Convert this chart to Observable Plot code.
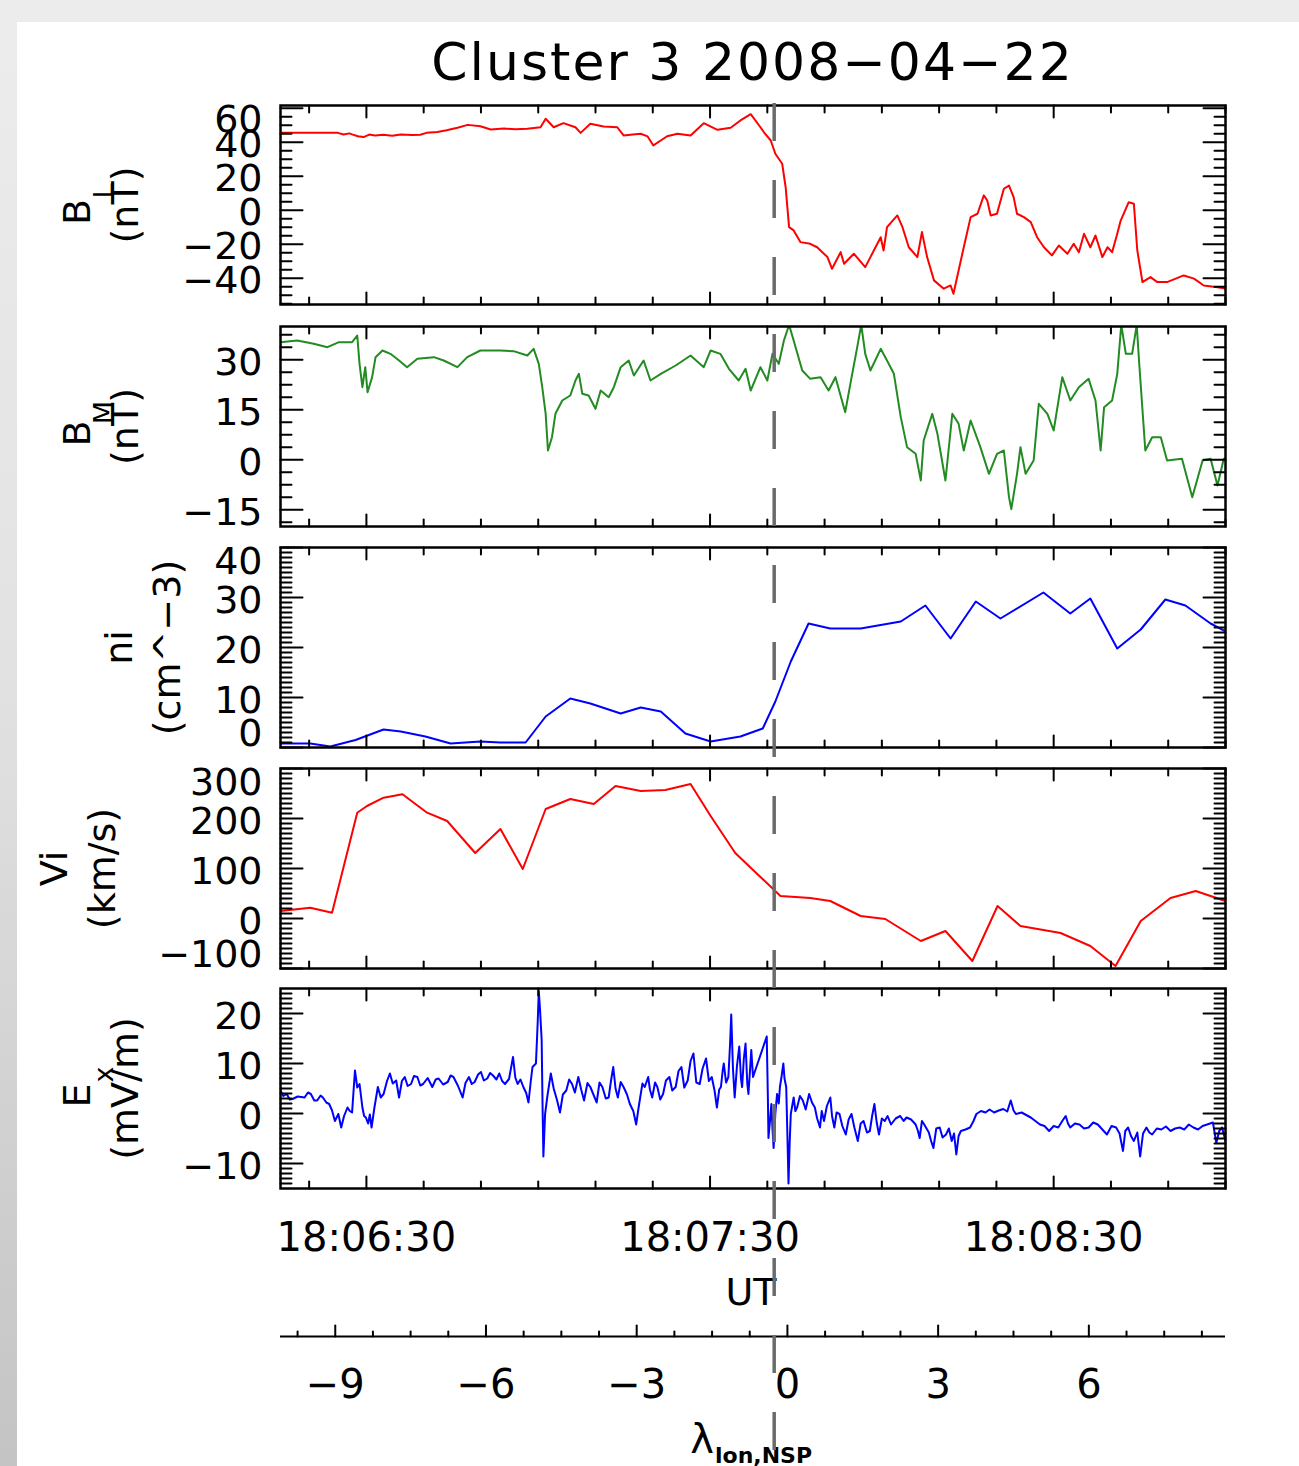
<!DOCTYPE html>
<html>
<head>
<meta charset="utf-8">
<script src="https://cdn.jsdelivr.net/npm/d3@7"></script>
<script src="https://cdn.jsdelivr.net/npm/@observablehq/plot@0.6"></script>
<style>
html, body { margin: 0; padding: 0; width: 1299px; height: 1466px; overflow: hidden; background: #ececec; }
#strip { position: absolute; left: 0; top: 22px; width: 17px; height: 1444px; background: linear-gradient(#ececec, #e2e2e2 45%, #c4c4c4); }
#sheet { position: absolute; left: 17px; top: 22px; right: 0; bottom: 0; background: #ffffff; }
#fig { position: absolute; left: 0; top: 0; width: 1299px; height: 1466px; }
#fig svg { position: absolute; left: 0; overflow: visible; }
#title { position: absolute; left: 0; width: 1505px; top: 30px; text-align: center; font-family: "DejaVu Sans", sans-serif; font-size: 52px; letter-spacing: 2px; color: #000; line-height: 64px; }
</style>
</head>
<body>
<div id="strip"></div>
<div id="sheet"></div>
<div id="fig"><div id="title">Cluster 3 2008−04−22</div></div>
<script>
// ---------------- data (time = seconds after 18:06:00 UT) ----------------
const timeDomain = [15, 180];
const timeTickValues = [30, 90, 150];
const timeTickLabels = ["18:06:30", "18:07:30", "18:08:30"];
const timeMinorTicks = [20, 40, 50, 60, 70, 80, 100, 110, 120, 130, 140, 160, 170, 180];
const markerTime = 101.2;

const lambdaDomain = [-10.09, 8.72];
const lambdaTickValues = [-9, -6, -3, 0, 3, 6];
const lambdaMinorTicks = [-9.75, -8.25, -7.5, -6.75, -5.25, -4.5, -3.75, -2.25, -1.5, -0.75, 0.75, 1.5, 2.25, 3.75, 4.5, 5.25, 6.75, 7.5, 8.25];

const bLTicks = [-40, -20, 0, 20, 40, 60];
const bMTicks = [-15, 0, 15, 30];
const niTicks = [0, 10, 20, 30, 40];
const viTicks = [-100, 0, 100, 200, 300];
const exTicks = [-10, 0, 10, 20];

const bL = [[15,45.5],[25,45.5],[26,44.5],[27,45.2],[27.5,44.6],[28.5,43.5],[29.5,43],[30.5,44.5],[31.5,44],[33,44.4],[34.5,43.8],[36,44.5],[38,44.2],[39.4,44.4],[40.5,45.5],[42.4,46],[44,47],[45.9,48.5],[47.7,50.2],[49.9,49.4],[51.7,47.5],[54,48],[56,47.6],[58.1,47.9],[60.4,48.8],[61.3,53.8],[62.7,48.8],[64.4,51.2],[66.5,48.8],[67.4,45.5],[69.1,50.8],[71.4,49.2],[73.8,48.8],[74.9,44],[76.5,44.6],[77.9,45],[79.1,43.4],[80.1,38.1],[81.4,41],[82.5,43.5],[84.3,45],[86.6,44],[88.9,51.2],[91.3,47.3],[93.6,48.5],[95.3,52.8],[97.1,56.5],[98.8,48.8],[99.6,45],[100.6,41],[101.4,33.2],[102.6,27.3],[103.2,13.5],[103.8,-10],[104.6,-11.9],[105.8,-18.8],[107.5,-19.8],[108.7,-21.8],[110.5,-27.6],[111.3,-34.5],[112.8,-24.7],[113.4,-31.5],[115.1,-25.6],[117.1,-33.5],[118,-27.6],[119.8,-15.9],[120.3,-23.7],[120.9,-10],[122.7,-3.1],[123.6,-10],[124.7,-21.8],[126.2,-27.6],[127,-12.9],[127.9,-27.6],[129.1,-41.3],[130.8,-46.2],[132,-44.3],[132.5,-49.2],[133.4,-35.5],[134.3,-21.8],[135.5,-4.1],[136.7,-2.1],[137.8,8.7],[138.4,5.7],[139,-3.1],[140.1,-2.1],[141.3,12.6],[142.2,14.5],[143,7.7],[143.6,-2.1],[144.8,-4.1],[146,-7],[147.1,-15.9],[148.3,-21.8],[149.7,-26.6],[150.9,-20.8],[152.4,-25.6],[153.5,-19.8],[154.4,-24.7],[155.3,-13.9],[156.4,-21.8],[157.3,-14.9],[158.5,-27.6],[159.4,-21.8],[160.2,-24.7],[161.1,-13.9],[161.7,-6.1],[163.1,4.7],[164,3.8],[164.6,-23.7],[165.5,-42.3],[166.9,-39.4],[168.1,-42.3],[169.8,-42.3],[172.7,-38.4],[174.5,-40.3],[176.2,-44.3],[178.6,-45.3],[180,-46.2]];

const bM = [[15,35.3],[17.9,35.8],[20.8,34.8],[23.2,33.8],[25.2,35.3],[27.5,35.3],[28.4,37.3],[28.8,28.8],[29.3,21.8],[29.8,27.8],[30.2,20.3],[31,24.8],[31.6,30.8],[32.8,32.8],[34.2,31.8],[35.7,29.8],[37.1,27.8],[38.9,30.3],[41.8,30.8],[43.5,29.8],[45.9,27.8],[47.6,30.8],[49.9,32.8],[53.4,32.8],[55.7,32.6],[58.1,31.3],[59.2,33.3],[60.1,28.8],[60.7,21.8],[61.3,13.8],[61.7,2.8],[62.4,6.8],[63,13.8],[64.2,17.8],[65.6,19.3],[66.5,23.8],[67.1,25.8],[67.7,19.8],[68.8,19.3],[70,15.3],[70.9,20.8],[72.3,18.8],[73.2,21.8],[74.4,27.8],[75.8,29.8],[76.7,25.3],[78.4,29.8],[79.6,23.8],[81.4,25.8],[84,28.3],[86.6,31.3],[88.9,27.8],[90.1,32.8],[91.8,31.8],[93.3,27.3],[95,23.8],[96.2,27.3],[97.1,20.8],[98.8,27.8],[100,23.8],[100.9,31.8],[102,28.8],[102.9,35.8],[103.8,40.5],[104.6,35.8],[106.1,26.8],[107.5,24.3],[109.3,24.8],[110.7,20.8],[111.9,24.8],[113.6,14.3],[114.5,22.8],[115.7,33.8],[116.4,40.5],[117.1,31.8],[118,26.8],[119.8,33.3],[120.9,29.8],[122.1,25.8],[123.3,12.8],[124.4,3.8],[125.9,1.8],[126.8,-6.2],[127.3,5.8],[128.8,13.8],[129.7,7.8],[131.1,-6.2],[132.3,13.8],[133.4,10.8],[134.3,2.8],[135.5,11.8],[137.2,3.8],[138.7,-4.2],[140.1,1.8],[141.3,2.8],[142.2,-11.2],[142.6,-14.8],[143.6,-4.2],[144.2,3.8],[145.1,-4.2],[146.5,-0.2],[147.4,16.8],[148.9,13.8],[150,8.8],[151.5,24.8],[152.9,17.8],[154.4,21.8],[156.1,24.3],[157.3,17.8],[158.2,2.8],[158.8,15.8],[160.2,17.8],[161.1,25.8],[161.8,40.5],[162.6,31.8],[163.7,31.8],[164.5,40.5],[164.9,29.8],[166,2.8],[167.2,6.8],[168.7,6.8],[169.8,-0.2],[172.4,0.3],[174.2,-11.2],[176,-0.2],[177.4,0.3],[178.6,-7.7],[179.7,0.3],[180,0.5]];

const ni = [[15,0.8],[20.2,0.8],[23.7,0.2],[28.1,1.5],[33,3.6],[36,3.2],[40.3,2.2],[44.7,0.8],[49.9,1.2],[53.4,1],[57.8,1],[61.3,6.2],[65.6,9.8],[69.1,8.8],[74.4,6.8],[77.9,8],[81.4,7.2],[85.7,2.8],[90.1,1.2],[95.3,2.2],[99.2,3.8],[101.4,9.2],[104.1,17.2],[107.2,24.8],[111,23.8],[116.3,23.8],[123.3,25.2],[127.6,28.4],[132,21.8],[136.4,29.2],[140.7,25.8],[148.2,31],[152.9,26.8],[156.4,29.8],[161.1,19.8],[165.2,23.6],[169.5,29.6],[173,28.4],[177.4,24.8],[180,23.2]];

const vi = [[15,15],[20.2,21.6],[24,11.6],[28.4,211.6],[30.1,225],[33,241.6],[36.3,248.4],[40.6,211.6],[44.1,195],[49,131],[53.4,179],[57.3,99],[61.3,219],[65.6,239],[69.7,229],[73.5,265],[77.9,255],[82.2,257],[86.6,269],[90.1,205],[94.4,131],[98.8,83],[102.3,45],[107.5,41],[111,35],[116.3,5],[120.6,-1],[126.8,-45],[131.1,-25],[135.8,-85],[140.2,25],[144.2,-15],[151.2,-29],[156.4,-55],[160.8,-95],[165.2,-5],[170.4,41],[174.8,55],[180,35]];

const ex = [[15,4.6],[15.5,3.5],[16.1,3.9],[16.6,2.8],[17.1,2.9],[18,3.4],[19.2,3.2],[19.8,4.2],[20.3,3.9],[20.9,2.6],[21.4,2.6],[22,3.6],[22.4,3.2],[23,2.2],[23.5,1.9],[24,0.6],[24.5,-1.5],[25.1,-0.1],[25.6,-2.8],[26.1,-0.5],[26.7,1.2],[27.1,0.5],[27.5,0.2],[28,8.6],[28.4,5.2],[28.8,5.9],[29.3,1.2],[29.6,-0.5],[29.9,-0.8],[30.3,-2],[30.6,-0.2],[30.9,-2.8],[31.4,1.2],[32,5.3],[32.5,3.2],[33,3.9],[33.6,6.5],[34.1,8],[34.6,6],[35.2,6.6],[35.7,3.2],[36.2,6.5],[36.7,7.3],[37.2,5.5],[37.8,5.9],[38.3,7.5],[38.9,7.3],[39.4,5.6],[39.9,5.9],[40.7,7.1],[41.5,5.3],[42.1,6.8],[42.6,7],[43.4,5.8],[44.2,6.3],[44.7,7.6],[45.2,7.3],[46,5.5],[46.8,3.2],[47.3,6.1],[47.9,7.3],[48.4,5.9],[48.9,6.3],[49.5,7.8],[50,8.3],[50.5,6.6],[51.1,7],[51.6,8.1],[52.1,7.6],[52.7,6.8],[53.2,8],[53.7,6.5],[54.2,5.9],[54.9,6.9],[55.6,11.3],[56,7.2],[56.4,5.9],[56.9,6.8],[57.4,5.3],[57.9,4.1],[58.3,2.2],[58.7,6.5],[59,9.3],[59.6,10],[59.9,18],[60.1,24.5],[60.3,21],[60.6,14.7],[60.75,2],[60.9,-8.6],[61.2,-0.1],[61.6,3.5],[62.2,8],[62.7,5],[63.3,2.6],[63.8,0.2],[64.3,3.8],[64.9,4.6],[65.4,6.8],[65.9,5.9],[66.4,4.2],[67,7.3],[67.5,4.8],[68,2.6],[68.6,6.1],[69.1,5.3],[69.6,3.9],[70.2,2.2],[70.7,6.2],[71.2,5.3],[71.8,3],[72.3,3.2],[72.7,6.5],[73.1,9.3],[73.5,5],[73.9,3.2],[74.4,6.3],[74.9,5.3],[75.5,3.8],[76,1.9],[76.6,0.5],[77.1,-2.2],[77.5,1],[77.8,3.2],[78.2,6],[78.6,5.3],[79.2,7.3],[79.5,4.8],[79.9,3.2],[80.4,6.2],[80.8,5.3],[81.3,2.8],[81.8,3.9],[82.3,6.6],[82.9,7.3],[83.4,4.6],[84,5.3],[84.5,8.5],[85,9.3],[85.5,5.2],[86.1,6.6],[86.6,10.5],[87.1,12],[87.6,6.2],[88.2,5.9],[88.7,9],[89.3,11],[89.8,6.5],[90.3,7.3],[90.8,4.5],[91.2,1.2],[91.6,4.8],[91.9,5.3],[92.2,8.5],[92.4,10],[92.8,6.2],[93.2,7.3],[93.5,14],[93.7,19.8],[94,9],[94.3,3.2],[94.7,9.5],[95.1,13.4],[95.4,7],[95.6,5.3],[95.9,11],[96.2,14],[96.5,6],[96.7,3.9],[97,9],[97.2,12.7],[97.5,7.3],[99.9,15.4],[100.1,3],[100.2,-4.9],[100.5,-1],[100.7,1.9],[100.9,-3],[101.1,-6.9],[101.4,0],[101.7,3.9],[102,2],[102.2,5.3],[102.5,7.5],[102.8,10],[103,7],[103.3,5.3],[103.5,-4],[103.7,-14],[103.9,-6],[104.1,-0.1],[104.6,3.2],[104.9,0.5],[105.2,1.2],[105.7,3.5],[106.2,2.6],[106.7,0.8],[107.3,3.9],[107.8,2.2],[108.3,1.2],[108.7,-1],[109.2,-2.8],[109.5,0.5],[109.9,-1.5],[110.4,1.5],[111,3.2],[111.3,-0.5],[111.7,-2.8],[112.1,0.2],[112.6,-0.1],[113.1,-2.5],[113.7,-4.2],[114.2,-1.2],[114.7,-0.1],[115.2,-2.8],[115.8,-5.5],[116.3,-2],[116.8,-1.5],[117.4,-3.8],[117.9,-3.5],[118.3,-0.5],[118.7,1.9],[119.1,-1.8],[119.5,-4.2],[120,-1],[120.5,-1.5],[121,-0.5],[121.6,-2.2],[122.4,-1],[123.2,-0.5],[123.8,-1.5],[124.3,-0.8],[125.1,-1.2],[125.9,-2.2],[126.3,-3.5],[126.6,-4.9],[127,-1.5],[127.4,-2.2],[128.2,-3.8],[128.6,-5.5],[129,-6.9],[129.5,-3],[130.1,-2.8],[130.6,-4.8],[131.2,-4.2],[131.7,-3],[132.2,-5.5],[132.6,-4],[133,-8.2],[133.4,-4.5],[133.8,-3.5],[134.6,-3.2],[135.4,-2.8],[136,-1.5],[136.5,-0.1],[137.3,0.5],[138.1,0.2],[138.8,0.8],[139.6,0.2],[140.4,0.6],[141.2,0.9],[141.9,0.4],[142.5,2.6],[143,0.6],[143.4,-0.1],[144.4,0.2],[145.2,-0.3],[146,-0.8],[146.8,-1.5],[147.6,-2.2],[148.4,-2.5],[149.2,-3.5],[150,-2.5],[150.8,-2.8],[151.5,-1.5],[152.1,-0.5],[152.5,-2],[152.9,-2.8],[153.7,-2],[154.5,-2.2],[155.3,-3],[156.1,-2.8],[156.9,-1.8],[157.7,-2.2],[158.5,-3.2],[159.3,-4.2],[160.1,-2.5],[160.9,-2.8],[161.5,-4],[162.1,-7.5],[162.5,-3.5],[163,-2.8],[163.5,-4.5],[164,-5.5],[164.6,-3.8],[165.1,-8.6],[165.6,-4],[166.2,-2.8],[166.7,-3.8],[167.2,-4.2],[168,-3],[168.8,-3.2],[169.6,-2.6],[170.4,-3.5],[171.2,-3],[172,-2.8],[172.8,-3.2],[173.6,-2.2],[174.4,-2.8],[175.2,-3.2],[176,-2.5],[176.8,-2.2],[177.8,-1.8],[178.4,-5.9],[178.9,-3.5],[179.4,-2.8],[180,-5.5]];

// ---------------- layout ----------------
const W = 1299, ML = 280, MR = 74;
const FONT = "DejaVu Sans, sans-serif";
const fig = document.getElementById("fig");
const tickShape = {draw(ctx, l) { ctx.moveTo(0, 0); ctx.lineTo(0, -l); }};
const fmtNum = d => String(d).replace("-", "\u2212");
const range = (a, b, s) => d3.range(a, b + s / 2, s);

function tickVectors(values, frameAnchor, rotate, length, channel) {
  return Plot.vector(values, {[channel]: d => d, frameAnchor, rotate, length, anchor: "start", shape: tickShape, stroke: "#000", strokeWidth: 2});
}

function panel(cfg) {
  const {data, color, yDomain, majors, minors, top, height, titleX, line1, sub, line2, mt = 2, mb = 2, extra = []} = cfg;
  const k = height / (yDomain[1] - yDomain[0]);
  const labelY = v => Math.min(Math.max(v, yDomain[0] + 17 / k), yDomain[1] - 11 / k);
  const minorTicks = minors.filter(v => !majors.includes(v) && v > yDomain[0] && v < yDomain[1]);
  const titleStyle = {frameAnchor: "left", rotate: -90, textAnchor: "middle", lineAnchor: "middle", fill: "#000"};
  const marks = [
    Plot.line(data, {x: d => d[0], y: d => d[1], stroke: color, strokeWidth: 2, clip: true}),
    tickVectors(majors, "left", 90, 22, "y"),
    tickVectors(minorTicks, "left", 90, 11, "y"),
    tickVectors(majors, "right", -90, 22, "y"),
    tickVectors(minorTicks, "right", -90, 11, "y"),
    tickVectors(timeTickValues, "top", 180, 12, "x"),
    tickVectors(timeMinorTicks, "top", 180, 7, "x"),
    tickVectors(timeTickValues, "bottom", 0, 12, "x"),
    tickVectors(timeMinorTicks, "bottom", 0, 7, "x"),
    Plot.frame({stroke: "#000", strokeWidth: 2.5}),
    Plot.text(majors, {y: labelY, frameAnchor: "left", text: fmtNum, textAnchor: "end", lineAnchor: "middle", dx: -18, dy: 3, fontSize: 38, fill: "#000"}),
    Plot.text([line2], {...titleStyle, dx: titleX - ML, fontSize: 38}),
    Plot.text([line1], {...titleStyle, dx: titleX - 48 - ML, dy: sub ? 7 : 0, fontSize: 38}),
    ...(sub ? [Plot.text([sub], {...titleStyle, dx: titleX - 21 - ML, dy: -14, fontSize: 27})] : []),
    ...extra
  ];
  const p = Plot.plot({
    width: W, height: mt + height + mb,
    marginLeft: ML, marginRight: MR, marginTop: mt, marginBottom: mb,
    x: {domain: timeDomain, axis: null},
    y: {domain: yDomain, axis: null},
    style: {background: "transparent", overflow: "visible", fontFamily: FONT},
    marks
  });
  p.style.top = (top - mt) + "px";
  fig.appendChild(p);
}

panel({data: bL, color: "#ff0000", yDomain: [-55.5, 61.6], majors: bLTicks, minors: range(-55, 60, 5),
  top: 105, height: 199, titleX: 125, line1: "B", sub: "L", line2: "(nT)"});
panel({data: bM, color: "#228b22", yDomain: [-20, 40], majors: bMTicks, minors: range(-18.75, 37.5, 3.75),
  top: 326, height: 200, titleX: 125, line1: "B", sub: "M", line2: "(nT)"});
panel({data: ni, color: "#0000ff", yDomain: [0, 40], majors: niTicks, minors: range(1, 39, 1),
  top: 546.5, height: 200, titleX: 167, line1: "ni", line2: "(cm^\u22123)"});
panel({data: vi, color: "#ff0000", yDomain: [-100, 300], majors: viTicks, minors: range(-90, 290, 10),
  top: 767.5, height: 200, titleX: 102, line1: "Vi", line2: "(km/s)"});
panel({data: ex, color: "#0000ff", yDomain: [-15, 25], majors: exTicks, minors: range(-14, 24, 1),
  top: 988, height: 200, titleX: 125, line1: "E", sub: "x", line2: "(mV/m)", mb: 140,
  extra: [
    Plot.text(timeTickValues, {x: d => d, frameAnchor: "bottom", text: (d, i) => timeTickLabels[i], dy: 50, fontSize: 40, lineAnchor: "middle", fill: "#000"}),
    Plot.text(["UT"], {frameAnchor: "bottom", dx: -2, dy: 104, fontSize: 38, lineAnchor: "middle", fill: "#000"})
  ]});

// lambda axis
{
  const p = Plot.plot({
    width: W, height: 140, marginLeft: ML, marginRight: MR, marginTop: 10, marginBottom: 30,
    x: {domain: lambdaDomain, axis: null},
    y: {domain: [0, 1], axis: null},
    style: {background: "transparent", overflow: "visible", fontFamily: FONT},
    marks: [
      Plot.ruleY([1], {stroke: "#000", strokeWidth: 2}),
      tickVectors(lambdaTickValues, "top", 0, 11, "x"),
      tickVectors(lambdaMinorTicks, "top", 0, 5, "x"),
      Plot.text(lambdaTickValues, {x: d => d, frameAnchor: "top", text: fmtNum, dy: 49, fontSize: 40, lineAnchor: "middle", fill: "#000"}),
      Plot.text(["\u03bb"], {frameAnchor: "top", dx: -51, dy: 104, fontSize: 40, lineAnchor: "middle", fill: "#000"}),
      Plot.text(["lon,NSP"], {frameAnchor: "top", dx: -38, dy: 119, fontSize: 22, fontWeight: "bold", textAnchor: "start", lineAnchor: "middle", fill: "#000"})
    ]
  });
  p.style.top = (1336 - 10) + "px";
  fig.appendChild(p);
}

// dashed marker line across the whole figure
{
  const p = Plot.plot({
    width: W, height: 1466 - 103, marginLeft: ML, marginRight: MR, marginTop: 0, marginBottom: 0,
    x: {domain: timeDomain, axis: null},
    style: {background: "transparent", overflow: "visible"},
    marks: [Plot.ruleX([markerTime], {stroke: "#6b6b6b", strokeWidth: 3.5, strokeDasharray: "38,39"})]
  });
  p.style.top = "103px";
  p.style.pointerEvents = "none";
  fig.appendChild(p);
}
</script>
</body>
</html>
